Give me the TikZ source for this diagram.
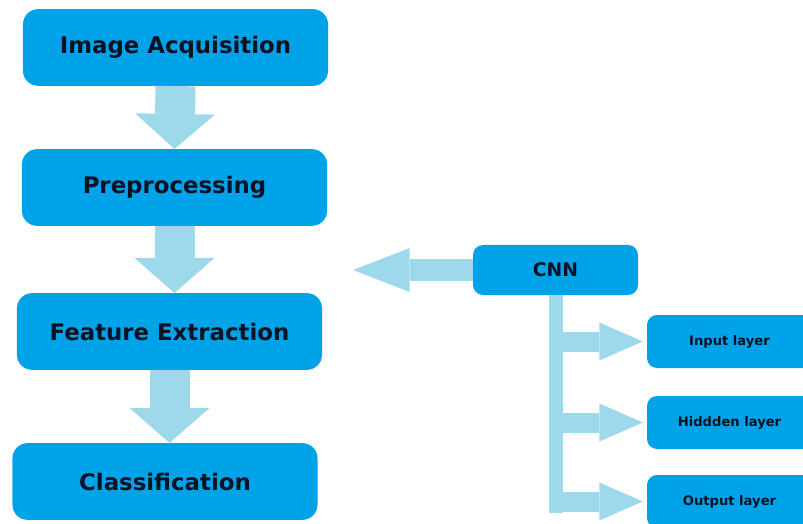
\documentclass[tikz,border=0pt]{standalone}
\usepackage{fontspec}
\setmainfont{DejaVu Sans}
\usetikzlibrary{arrows.meta}
\definecolor{boxblue}{RGB}{0,162,232}
\definecolor{arrblue}{RGB}{157,217,235}
\definecolor{txtdark}{RGB}{10,18,35}
\begin{document}
\begin{tikzpicture}[x=0.3mm, y=-0.3mm,
  stage/.style={rectangle, rounded corners=4.5mm, fill=boxblue, text=txtdark, inner sep=0pt,
    minimum width=91.5mm, minimum height=23mm, font=\fontsize{19.5}{22}\selectfont\bfseries},
  layer/.style={rectangle, rounded corners=3mm, fill=boxblue, text=txtdark, inner sep=0pt,
    minimum width=49.5mm, minimum height=15.9mm, font=\fontsize{11.2}{13}\selectfont\bfseries},
  bigarrow/.style={arrblue, line width=12mm, -{Triangle[length=10.5mm, width=24mm, line width=0pt]}},
  sidearrow/.style={arrblue, line width=6.6mm, -{Triangle[length=17mm, width=13.2mm, line width=0pt]}},
  branch/.style={arrblue, line width=6mm, shorten >=1.2mm, -{Triangle[length=13mm, width=11.4mm, line width=0pt]}},
  trunk/.style={arrblue, line width=4.2mm}]
\useasboundingbox (0,0) rectangle (803,524);
\node[stage] (acq) at (175.5,47.5){Image Acquisition};
\node[stage] (pre) at (174.5,187.5){Preprocessing};
\node[stage] (feat) at (169.5,331.5){Feature Extraction};
\node[stage] (cls) at (165,481.5){Classification};
\draw[bigarrow](acq.south) -- (pre.north);
\draw[bigarrow](pre.south) -- (pre.south |- feat.north);
\draw[bigarrow](feat.south) -- (feat.south |- cls.north);
\node[layer, minimum height=15mm, font=\fontsize{16}{18}\selectfont\bfseries] (cnn) at (555.5,270){CNN};
\node[layer] (inp) at (729.5,341.5){Input layer};
\node[layer] (hid) at (729.5,422.5){Hiddden layer};
\node[layer] (outl) at (729.5,501.5){Output layer};
\coordinate (cnnend) at (353,270);
\coordinate (trunkend) at (555.5,513);
\draw[sidearrow](cnn.west) -- (cnnend);
\draw[trunk](cnn.south) -- (trunkend);
\draw[branch](inp.west -| cnn.south) -- (inp.west);
\draw[branch](hid.west -| cnn.south) -- (hid.west);
\draw[branch](outl.west -| cnn.south) -- (outl.west);
\end{tikzpicture}
\end{document}
